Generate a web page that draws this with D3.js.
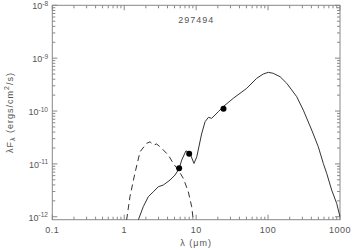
<!DOCTYPE html>
<html>
<head>
<meta charset="utf-8">
<script src="https://cdn.jsdelivr.net/npm/d3@7"></script>
<style>
  body { margin: 0; background: #fff; }
  text { font-family: "Liberation Sans", Arial, sans-serif; fill: #555; }
</style>
</head>
<body>
<svg id="main-chart"></svg>
<script>
// model SED (solid line)
const modelWave = [1.57, 1.84, 2.16, 2.54, 2.98, 3.49, 4.33, 5.08, 5.77, 6.30, 7.22, 8.21, 9.33, 10.2,
  11.9, 13.3, 14.8, 16.4, 18.3, 20.3, 23.8, 32.8, 50.5, 69.5, 85.7, 101, 118, 147, 182, 250, 309,
  404, 499, 586, 653, 766, 899, 1000];
const modelFlux = [8.7e-13, 1.55e-12, 2.39e-12, 2.97e-12, 3.70e-12, 3.98e-12, 4.94e-12, 6.15e-12,
  8.0e-12, 1.18e-11, 1.77e-11, 1.58e-11, 1.02e-11, 1.36e-11, 3.67e-11, 6.28e-11, 7.60e-11, 7.28e-11,
  8.40e-11, 9.70e-11, 1.21e-10, 1.74e-10, 2.69e-10, 4.16e-10, 5.01e-10, 5.40e-10, 5.17e-10,
  4.46e-10, 3.34e-10, 1.87e-10, 1.04e-10, 4.37e-11, 2.11e-11, 1.02e-11, 6.62e-12, 3.20e-12,
  1.79e-12, 1.0e-12];

// stellar photosphere (dashed line)
const starWave = [1.08, 1.20, 1.41, 1.66, 2.05, 2.28, 2.54, 2.83, 3.32, 4.10, 4.81, 5.65, 6.63,
  7.78, 8.67, 9.12];
const starFlux = [8.7e-13, 2.39e-12, 6.71e-12, 1.70e-11, 2.45e-11, 2.62e-11, 2.28e-11, 2.38e-11,
  1.97e-11, 1.47e-11, 1.02e-11, 7.65e-12, 5.33e-12, 2.97e-12, 1.55e-12, 8.7e-13];

// photometry
const obsWave = [5.8, 8.0, 24];
const obsFlux = [8.3e-12, 1.55e-11, 1.1e-10];

const xTicks = [0.1, 1, 10, 100, 1000];
const xTickLabels = ["0.1", "1", "10", "100", "1000"];
const yTicks = [1e-12, 1e-11, 1e-10, 1e-9, 1e-8];
const yTickExp = ["-12", "-11", "-10", "-9", "-8"];
const title = "297494";

function plotchart()
{
  const width = 353, height = 250;
  const left = 52.3, right = 340, top = 5.3, bottom = 219.7;

  const x = d3.scaleLog().domain([0.1, 1000]).range([left, right]);
  const y = d3.scaleLog().domain([8.8e-13, 1e-8]).range([bottom, top]);

  const svg = d3.select("#main-chart")
      .attr("width", width)
      .attr("height", height);

  svg.append("defs").append("clipPath").attr("id", "clip")
    .append("rect")
      .attr("x", left).attr("y", top)
      .attr("width", right - left).attr("height", bottom - top);

  // minor + major ticks
  const xMinor = [];
  xTicks.slice(0, -1).forEach(t => { for (let k = 2; k < 10; k++) xMinor.push(t * k); });
  const yMinor = [];
  yTicks.slice(0, -1).forEach(t => { for (let k = 2; k < 10; k++) yMinor.push(t * k); });

  const ax = svg.append("g").attr("stroke", "#888").attr("stroke-width", 1);

  ax.append("rect")
      .attr("x", left).attr("y", top)
      .attr("width", right - left).attr("height", bottom - top)
      .attr("fill", "none");

  const xt = xTicks.map(v => ({v, len: 5})).concat(xMinor.map(v => ({v, len: 3})));
  ax.selectAll("line.xb").data(xt).join("line")
      .attr("class", "xb")
      .attr("x1", d => x(d.v)).attr("x2", d => x(d.v))
      .attr("y1", bottom).attr("y2", d => bottom - d.len);
  ax.selectAll("line.xt").data(xt).join("line")
      .attr("class", "xt")
      .attr("x1", d => x(d.v)).attr("x2", d => x(d.v))
      .attr("y1", top).attr("y2", d => top + d.len);

  const yt = yTicks.map(v => ({v, len: 5})).concat(yMinor.map(v => ({v, len: 3})));
  ax.selectAll("line.yl").data(yt).join("line")
      .attr("class", "yl")
      .attr("x1", left).attr("x2", d => left + d.len)
      .attr("y1", d => y(d.v)).attr("y2", d => y(d.v));
  ax.selectAll("line.yr").data(yt).join("line")
      .attr("class", "yr")
      .attr("x1", right).attr("x2", d => right - d.len)
      .attr("y1", d => y(d.v)).attr("y2", d => y(d.v));

  // tick labels
  svg.append("g")
      .attr("font-size", 9)
      .attr("text-anchor", "middle")
      .attr("letter-spacing", 0.5)
    .selectAll("text")
    .data(xTicks)
    .join("text")
      .attr("x", d => x(d))
      .attr("y", 233)
      .text((d, i) => xTickLabels[i]);

  const yl = svg.append("g")
      .attr("font-size", 9)
      .attr("text-anchor", "end")
    .selectAll("text")
    .data(yTicks)
    .join("text")
      .attr("x", 48)
      .attr("y", d => y(d) + 4);
  yl.append("tspan").text("10");
  yl.append("tspan")
      .attr("font-size", 6.5)
      .attr("dy", -3.5)
      .text((d, i) => yTickExp[i]);

  // axis titles
  svg.append("text")
      .attr("x", (left + right) / 2)
      .attr("y", 246)
      .attr("font-size", 9)
      .attr("letter-spacing", 1)
      .attr("text-anchor", "middle")
      .text("λ (μm)");

  const yTitle = svg.append("text")
      .attr("transform", `translate(13,${(top + bottom) / 2}) rotate(-90)`)
      .attr("font-size", 9)
      .attr("letter-spacing", 1)
      .attr("text-anchor", "middle");
  yTitle.append("tspan").text("λF");
  yTitle.append("tspan").attr("font-size", 7).attr("dy", 2).text("λ");
  yTitle.append("tspan").attr("dy", -2).text(" (ergs/cm");
  yTitle.append("tspan").attr("font-size", 7).attr("dy", -4).text("2");
  yTitle.append("tspan").attr("dy", 4).text("/s)");

  svg.append("text")
      .attr("x", (left + right) / 2)
      .attr("y", 23)
      .attr("font-size", 9)
      .attr("text-anchor", "middle")
      .attr("letter-spacing", 1)
      .text(title);

  // curves
  const line = d3.line()
      .x(d => x(d[0]))
      .y(d => y(d[1]));

  const plot = svg.append("g").attr("clip-path", "url(#clip)");

  plot.append("path")
      .datum(d3.zip(modelWave, modelFlux))
      .attr("fill", "none")
      .attr("stroke", "#333")
      .attr("stroke-width", 1)
      .attr("d", line);

  plot.append("path")
      .datum(d3.zip(starWave, starFlux))
      .attr("fill", "none")
      .attr("stroke", "#333")
      .attr("stroke-width", 1)
      .attr("stroke-dasharray", "6,4")
      .attr("d", line);

  plot.selectAll("circle")
    .data(d3.zip(obsWave, obsFlux))
    .join("circle")
      .attr("cx", d => x(d[0]))
      .attr("cy", d => y(d[1]))
      .attr("r", 3)
      .attr("fill", "#000");
}

plotchart();
</script>
</body>
</html>
